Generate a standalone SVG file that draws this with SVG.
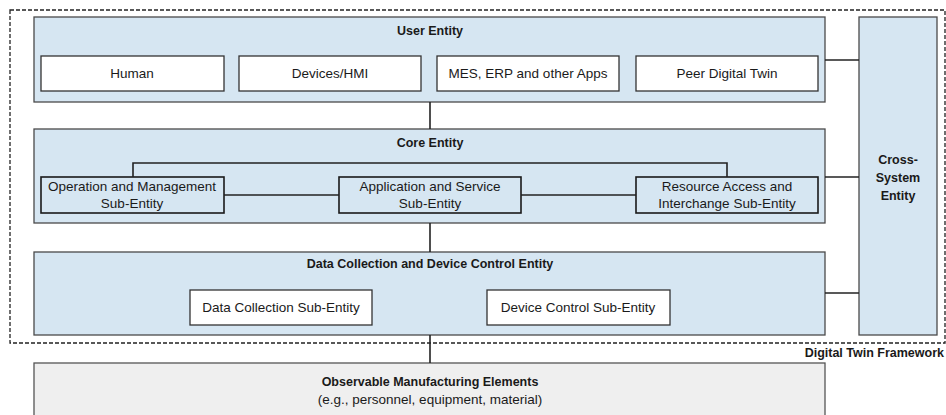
<svg xmlns="http://www.w3.org/2000/svg" width="946" height="415" viewBox="0 0 946 415">
<style>
.ent{fill:#d6e6f2;stroke:#4a4a4a;stroke-width:1.3}
.wbox{fill:#ffffff;stroke:#333333;stroke-width:1.3}
.sbox{fill:#d6e6f2;stroke:#1a1a1a;stroke-width:1.6}
.obs{fill:#efefef;stroke:#555555;stroke-width:1.3}
.frame{fill:none;stroke:#222222;stroke-width:1.3;stroke-dasharray:4,2}
.conn{fill:none;stroke:#222222;stroke-width:1.6}
text{font-family:"Liberation Sans",Arial,sans-serif;font-size:13.5px;fill:#1a1a1a;text-anchor:middle}
.b{font-weight:bold;font-size:12.5px}
</style>
<rect width="946" height="415" fill="#ffffff"/>
<rect class="frame" x="10" y="10" width="935" height="333"/>
<text class="b" x="944" y="357" style="text-anchor:end">Digital Twin Framework</text>

<g id="user-entity">
<rect class="ent" x="34" y="17" width="791" height="85"/>
<text class="b" x="430" y="35">User Entity</text>
</g>
<g id="human"><rect class="wbox" x="41" y="56" width="183" height="35"/><text x="132" y="78">Human</text></g>
<g id="devices-hmi"><rect class="wbox" x="239" y="56" width="182" height="35"/><text x="330" y="78">Devices/HMI</text></g>
<g id="mes-erp"><rect class="wbox" x="437" y="56" width="182" height="35"/><text x="528" y="78">MES, ERP and other Apps</text></g>
<g id="peer-dt"><rect class="wbox" x="636" y="56" width="182" height="35"/><text x="727" y="78">Peer Digital Twin</text></g>

<g id="core-entity">
<rect class="ent" x="34" y="129" width="791" height="94"/>
<text class="b" x="430" y="147">Core Entity</text>
</g>
<g id="op-mgmt"><rect class="sbox" x="41" y="177" width="183" height="36"/><text x="132" y="191">Operation and Management</text><text x="132" y="208">Sub-Entity</text></g>
<g id="app-service"><rect class="sbox" x="339" y="177" width="182" height="36"/><text x="430" y="191">Application and Service</text><text x="430" y="208">Sub-Entity</text></g>
<g id="resource-access"><rect class="sbox" x="636" y="177" width="182" height="36"/><text x="727" y="191">Resource Access and</text><text x="727" y="208">Interchange Sub-Entity</text></g>

<g id="data-collection-entity">
<rect class="ent" x="34" y="252" width="791" height="83"/>
<text class="b" x="430" y="268">Data Collection and Device Control Entity</text>
</g>
<g id="data-collection-sub"><rect class="wbox" x="190" y="290" width="182" height="35"/><text x="281" y="312">Data Collection Sub-Entity</text></g>
<g id="device-control-sub"><rect class="wbox" x="487" y="290" width="183" height="35"/><text x="578" y="312">Device Control Sub-Entity</text></g>

<g id="cross-system">
<rect class="ent" x="859" y="17" width="78" height="318"/>
<text class="b" x="898" y="164">Cross-</text>
<text class="b" x="898" y="182">System</text>
<text class="b" x="898" y="200">Entity</text>
</g>

<g id="observable">
<rect class="obs" x="34" y="363" width="791" height="60"/>
<text class="b" x="430" y="386">Observable Manufacturing Elements</text>
<text x="430" y="404">(e.g., personnel, equipment, material)</text>
</g>

<g id="connectors">
<line class="conn" x1="430" y1="102" x2="430" y2="129"/>
<line class="conn" x1="430" y1="223" x2="430" y2="252"/>
<line class="conn" x1="430" y1="335" x2="430" y2="363"/>
<line class="conn" x1="825" y1="60" x2="859" y2="60"/>
<line class="conn" x1="825" y1="177" x2="859" y2="177"/>
<line class="conn" x1="825" y1="293" x2="859" y2="293"/>
<polyline class="conn" points="133,177 133,163 727,163 727,177"/>
<line class="conn" x1="224" y1="195" x2="339" y2="195"/>
<line class="conn" x1="521" y1="195" x2="636" y2="195"/>
</g>
</svg>
